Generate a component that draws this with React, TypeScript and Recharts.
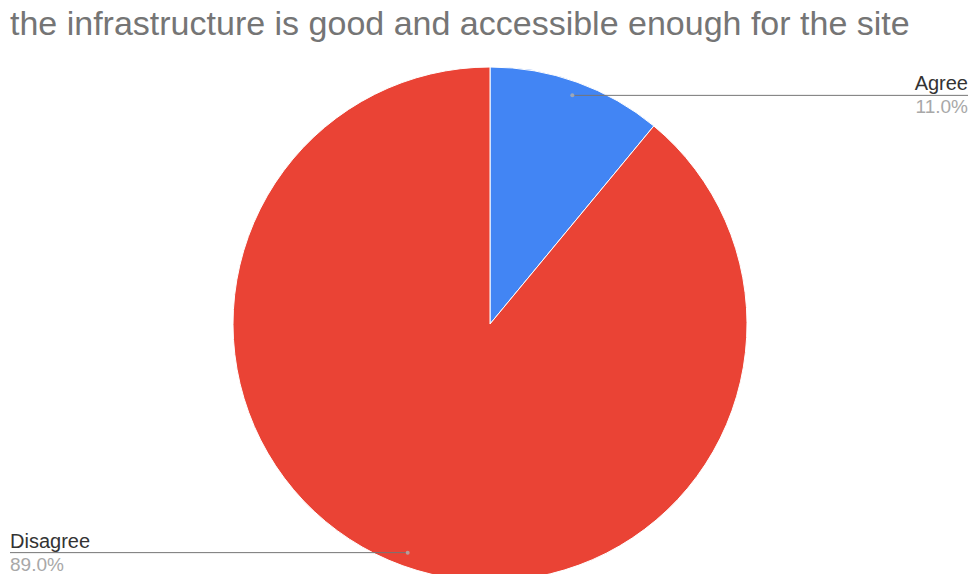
import { PieChart, Pie, Cell } from "recharts";

const categories = ["Agree", "Disagree"];
const shares = [11, 89];
const colors = ["#4285F4", "#EA4335"];

const data = categories.map((name, i) => ({ name, value: shares[i] }));

const RAD = Math.PI / 180;
const FONT = "'Liberation Sans', Arial, sans-serif";

const renderLabel = (props: any) => {
  const { cx, cy, midAngle, outerRadius, percent, name } = props;
  const r = outerRadius - 14;
  const x = cx + r * Math.cos(-midAngle * RAD);
  const y = cy + r * Math.sin(-midAngle * RAD);
  const right = Math.cos(-midAngle * RAD) >= 0;
  const endX = right ? 968 : 10;
  return (
    <g>
      <line x1={x} y1={y} x2={endX} y2={y} stroke="#757575" strokeWidth={1} />
      <circle cx={x} cy={y} r={2} fill="#b0b0b0" opacity={0.8} />
      <text x={endX} y={y - 5} textAnchor={right ? "end" : "start"} fill="#333" fontSize={20} fontFamily={FONT}>
        {name}
      </text>
      <text x={endX} y={y + 18} textAnchor={right ? "end" : "start"} fill="#a8a8a8" fontSize={19} fontFamily={FONT}>
        {(percent * 100).toFixed(1)}%
      </text>
    </g>
  );
};

export default function App() {
  return (
    <div style={{ position: "absolute", left: 0, top: 0, width: 970, height: 574, background: "#fff", overflow: "hidden" }}>
      <div style={{ position: "absolute", left: 10, top: 4, fontFamily: FONT, fontSize: 34, color: "#757575", whiteSpace: "nowrap" }}>
        the infrastructure is good and accessible enough for the site
      </div>
      <PieChart width={970} height={574} margin={{ top: 0, right: 0, bottom: 0, left: 0 }}>
        <Pie
          data={data}
          dataKey="value"
          nameKey="name"
          cx={490}
          cy={324}
          outerRadius={257}
          startAngle={90}
          endAngle={-270}
          stroke="#fff"
          strokeWidth={1}
          labelLine={false}
          label={renderLabel}
          isAnimationActive={false}
        >
          {data.map((d, i) => (
            <Cell key={d.name} fill={colors[i]} />
          ))}
        </Pie>
      </PieChart>
    </div>
  );
}
